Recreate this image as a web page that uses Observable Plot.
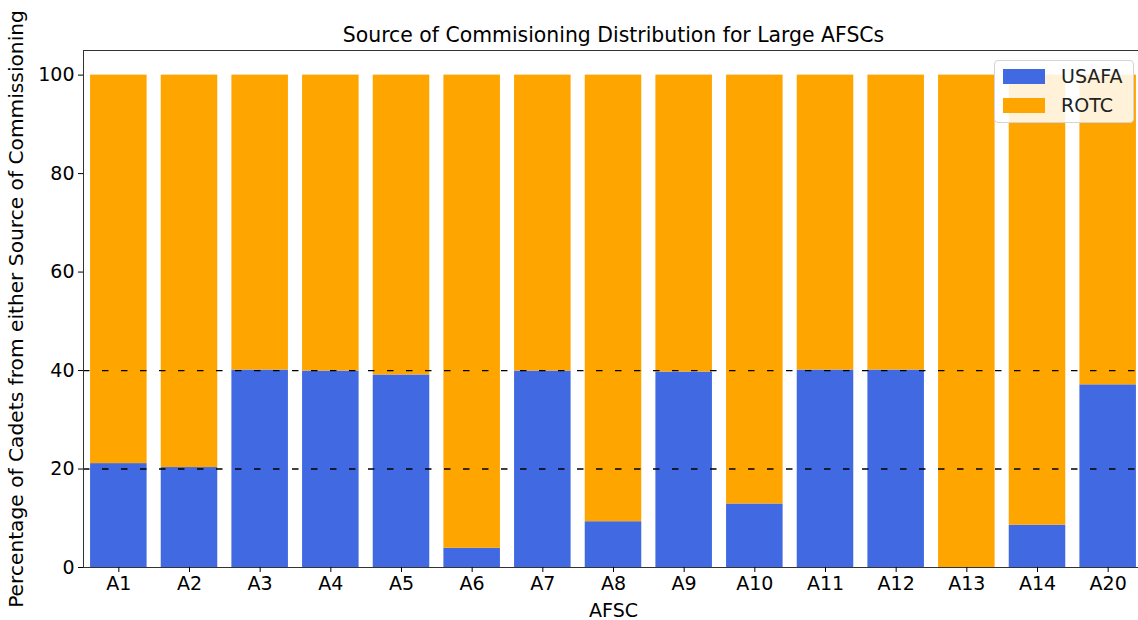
<!DOCTYPE html>
<html>
<head>
<meta charset="utf-8">
<script src="https://cdn.jsdelivr.net/npm/d3@7"></script>
<script src="https://cdn.jsdelivr.net/npm/@observablehq/plot@0.6"></script>
<style>
  html, body { margin: 0; padding: 0; background: #fff; overflow: hidden; }
  #wrap { position: relative; width: 1138px; height: 620px; overflow: hidden; font-family: "DejaVu Sans", sans-serif; }
  #wrap svg { max-width: none !important; }
  #wrap g[aria-label="y-axis label"] text { font-size: 20.2px; }
  #legend {
    position: absolute; left: 994px; top: 60px; width: 140px; height: 63px;
    border: 1px solid #d4d4d4; border-radius: 4px; background: rgba(255,255,255,0.85);
    box-sizing: border-box; font-size: 19px; color: #222;
  }
  .item { position: absolute; left: 8px; display: flex; align-items: center; }
  .sw { width: 42px; height: 15px; margin-right: 16px; }
</style>
</head>
<body>
<div id="wrap"></div>
<script>
const afsc = ["A1","A2","A3","A4","A5","A6","A7","A8","A9","A10","A11","A12","A13","A14","A20"];
const usafaPct = [21.1, 20.3, 40.1, 39.9, 39.1, 3.9, 39.9, 9.3, 39.7, 12.9, 40.1, 40.1, 0, 8.6, 37.1];
const rotcPct = usafaPct.map(v => 100 - v);
const series = ["USAFA", "ROTC"];
const colors = ["#4169E1", "#FFA500"];
const yTicks = [0, 20, 40, 60, 80, 100];
const refLines = [20, 40];
const title = "Source of Commisioning Distribution for Large AFSCs";

const rows = afsc.map((a, i) => ({afsc: a, usafa: usafaPct[i], rotc: rotcPct[i]}));

const chart = Plot.plot({
  width: 1143,
  height: 620,
  marginLeft: 83,
  marginRight: 0,
  marginTop: 50,
  marginBottom: 53,
  style: {fontFamily: "DejaVu Sans, sans-serif", fontSize: "19px", color: "#000", background: "#fff", overflow: "visible", maxWidth: "none"},
  x: {type: "band", domain: afsc, paddingInner: 0.2, paddingOuter: 0.1, round: false},
  y: {domain: [0, 105]},
  marks: [
    Plot.barY(rows, {x: "afsc", y1: 0, y2: "usafa", fill: colors[0], inset: 0}),
    Plot.barY(rows, {x: "afsc", y1: "usafa", y2: 100, fill: colors[1], inset: 0}),
    Plot.ruleY(refLines, {stroke: "#000", strokeWidth: 1.3, strokeDasharray: "6.5,12.5"}),
    Plot.frame({stroke: "#333", strokeWidth: 1}),
    Plot.axisX({tickSize: 5, tickPadding: 4, label: "AFSC", labelAnchor: "center", labelArrow: "none", labelOffset: 49, fontSize: 19}),
    Plot.axisY({ticks: yTicks, tickSize: 5, tickPadding: 4, label: "Percentage of Cadets from either Source of Commissioning", labelAnchor: "center", labelArrow: "none", labelOffset: 75, fontSize: 19}),
    Plot.text([title], {frameAnchor: "top", text: d => d, lineAnchor: "middle", dy: -15, fontSize: 20.4, fill: "#000"})
  ]
});
document.getElementById("wrap").appendChild(chart);

const legend = document.createElement("div");
legend.id = "legend";
series.forEach((s, i) => {
  const it = document.createElement("div");
  it.className = "item";
  it.style.top = (4 + i * 29) + "px";
  const sw = document.createElement("div");
  sw.className = "sw";
  sw.style.background = colors[i];
  const lb = document.createElement("span");
  lb.textContent = s;
  it.appendChild(sw); it.appendChild(lb);
  legend.appendChild(it);
});
document.getElementById("wrap").appendChild(legend);
</script>
</body>
</html>
